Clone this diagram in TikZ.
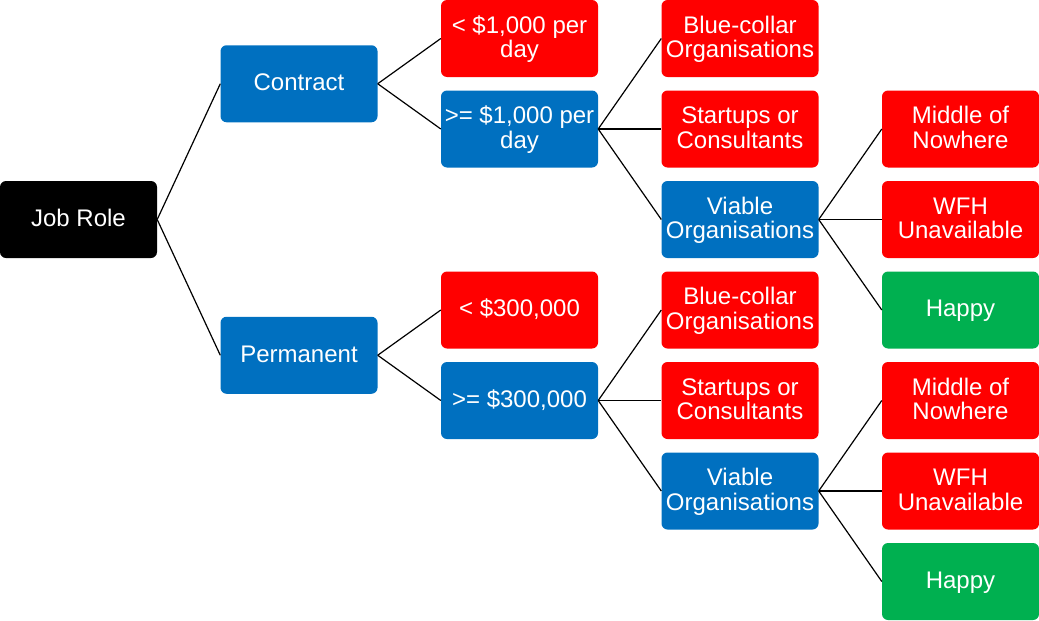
\documentclass[tikz,border=0pt]{standalone}
\usepackage{fontspec}
\setmainfont{Liberation Sans}
\definecolor{pblue}{HTML}{0070C0}
\definecolor{pred}{HTML}{FF0000}
\definecolor{pgreen}{HTML}{00B050}
\newcommand{\ls}{\rule[-0.2135em]{0pt}{1.01em}}
\begin{document}
\begin{tikzpicture}[x=1pt,y=-1pt,
  box/.style={rounded corners=6pt, minimum width=157pt, minimum height=77pt, inner sep=0pt,
    text=white, align=center, font=\fontsize{24}{24.5}\selectfont},
  bluebox/.style={box, fill=pblue},
  redbox/.style={box, fill=pred},
  greenbox/.style={box, fill=pgreen},
  blackbox/.style={box, fill=black},
  link/.style={draw=black, line width=1.2pt}]
\useasboundingbox (0,0) rectangle (1039,621);
% columns: 78.5, 299, 519.5, 740, 960.5
% rows: 38.5, 129, 219.5, 310, 400.5, 491, 581.5
\node[blackbox] (job) at (78.5,219.5) {\ls Job Role};
\node[bluebox] (contract) at (299,83.75) {\ls Contract};
\node[bluebox] (perm) at (299,355.25) {\ls Permanent};
\node[redbox] (clow) at (519.5,38.5) {\ls < \$1,000 per\\\ls day};
\node[bluebox] (chigh) at (519.5,129) {\ls >= \$1,000 per\\\ls day};
\node[redbox] (plow) at (519.5,310) {\ls < \$300,000};
\node[bluebox] (phigh) at (519.5,400.5) {\ls >= \$300,000};
\node[redbox] (cblue) at (740,38.5) {\ls Blue-collar\\\ls Organisations};
\node[redbox] (cstart) at (740,129) {\ls Startups or\\\ls Consultants};
\node[bluebox] (cviable) at (740,219.5) {\ls Viable\\\ls Organisations};
\node[redbox] (pblue) at (740,310) {\ls Blue-collar\\\ls Organisations};
\node[redbox] (pstart) at (740,400.5) {\ls Startups or\\\ls Consultants};
\node[bluebox] (pviable) at (740,491) {\ls Viable\\\ls Organisations};
\node[redbox] (cmid) at (960.5,129) {\ls Middle of\\\ls Nowhere};
\node[redbox] (cwfh) at (960.5,219.5) {\ls WFH\\\ls Unavailable};
\node[greenbox] (chappy) at (960.5,310) {\ls Happy};
\node[redbox] (pmid) at (960.5,400.5) {\ls Middle of\\\ls Nowhere};
\node[redbox] (pwfh) at (960.5,491) {\ls WFH\\\ls Unavailable};
\node[greenbox] (phappy) at (960.5,581.5) {\ls Happy};
\draw[link] (job.east) -- (contract.west);
\draw[link] (job.east) -- (perm.west);
\draw[link] (contract.east) -- (clow.west);
\draw[link] (contract.east) -- (chigh.west);
\draw[link] (perm.east) -- (plow.west);
\draw[link] (perm.east) -- (phigh.west);
\draw[link] (chigh.east) -- (cblue.west);
\draw[link] (chigh.east) -- (cstart.west);
\draw[link] (chigh.east) -- (cviable.west);
\draw[link] (phigh.east) -- (pblue.west);
\draw[link] (phigh.east) -- (pstart.west);
\draw[link] (phigh.east) -- (pviable.west);
\draw[link] (cviable.east) -- (cmid.west);
\draw[link] (cviable.east) -- (cwfh.west);
\draw[link] (cviable.east) -- (chappy.west);
\draw[link] (pviable.east) -- (pmid.west);
\draw[link] (pviable.east) -- (pwfh.west);
\draw[link] (pviable.east) -- (phappy.west);
\end{tikzpicture}
\end{document}
